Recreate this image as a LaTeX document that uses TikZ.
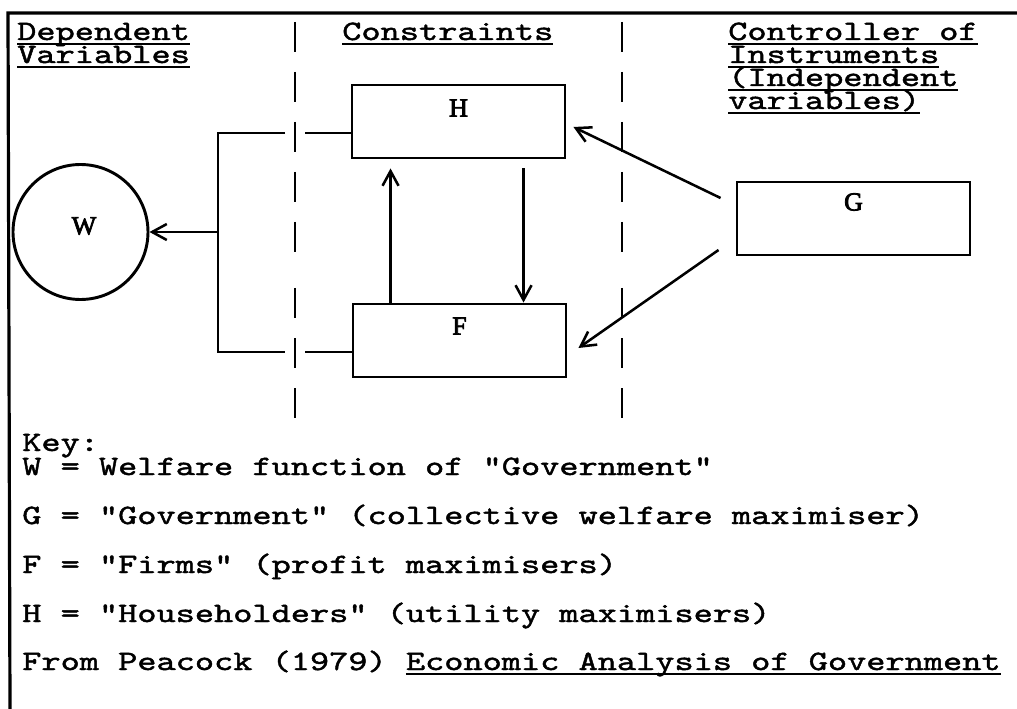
\documentclass[tikz,border=0pt]{standalone}
\usepackage{fontspec}
\usetikzlibrary{arrows.meta,calc}

% typewriter face for the headings and the key, serif face for the box letters
\newfontfamily\typer[FakeStretch=1.305,FakeBold=1.6]{lmmono10-regular.otf}
\newfontfamily\lett[FakeBold=3]{Liberation Serif}

% underline drawn at a fixed depth below the baseline
\newcommand\uln[1]{\setbox0\hbox{#1}\rlap{\rule[-4pt]{\wd0}{1.6pt}}\box0}

\tikzset{
  frame/.style={line width=2.4pt},
  divider/.style={line width=2pt, dash pattern=on 22.5pt off 15pt},
  box/.style={draw, line width=2.2pt, inner sep=0pt,
              minimum width=159.75pt, minimum height=54.75pt},
  conn/.style={line width=1.9pt},
  arr/.style={conn, -{Straight Barb[length=11pt,width=12pt]}},
  txt/.style={anchor=base west, inner sep=0pt,
              font=\typer\fontsize{21}{18.75}\selectfont},
  lbl/.style={inner sep=0pt, font=\lett\fontsize{19.5}{22}\selectfont}
}

\begin{document}
\begin{tikzpicture}[x=0.75pt,y=-0.75pt]
\useasboundingbox (0,0) rectangle (1017,709);

% outer frame (top and left edges)
\draw[frame] (1017,13) -- (8,13) -- (10,709);

% column dividers
\draw[divider] (295,22) -- (295,252);
\draw[divider] (295,288) -- (295,420);
\draw[divider] (622,22) -- (622,252);
\draw[divider] (622,288) -- (622,420);

% column headings
\node[txt] (dep1) at (17,40) {\uln{Dependent}};
\node[txt] (dep2) at (17,63) {\uln{Variables}};
\node[txt] (con1) at (342,40) {\uln{Constraints}};
\node[txt] (ctl1) at (728,40) {\uln{Controller of}};
\node[txt] (ctl2) at (728,63) {\uln{Instruments}};
\node[txt] (ctl3) at (728,86) {\uln{(Independent}};
\node[txt] (ctl4) at (728,109) {\uln{variables)}};

% welfare function, constraints and government
\node[draw, circle, line width=2.2pt, minimum size=101.25pt, inner sep=0pt] (W) at (80.5,232) {};
\node[box] (H) at (458.5,121.5) {};
\node[box] (F) at (459.5,340.5) {};
\node[box, minimum width=174.75pt] (G) at (853.5,218.5) {};

\node[lbl] (Wl) at (84,226) {W};
\node[lbl] (Hl) at (458.5,108) {H};
\node[lbl] (Fl) at (459.5,326) {F};
\node[lbl] (Gl) at (853.5,202) {G};

% bracket joining H and F to W
\coordinate (bT) at (218,133);
\coordinate (bB) at (218,352);
\coordinate (J) at (218,232);
\coordinate (gTl) at (285,133);
\coordinate (gTr) at (305,133);
\coordinate (gBl) at (285,352);
\coordinate (gBr) at (305,352);

\draw[conn] (H.west |- bT) -- (gTr);
\draw[conn] (gTl) -- (bT) -- (bB) -- (gBl);
\draw[conn] (gBr) -- (F.west |- bB);
\draw[arr] (J) -- (W);

% flows between H and F
\draw[arr] ($(F.north west)+(39,0)$) -- ($(H.south west)+(40,9)$);
\draw[arr] ($(H.south west)+(173,9)$) -- ($(F.north west)+(172,0)$);

% government instruments
\draw[arr] ($(G.west)+(-15,-20.5)$) -- ($(H.east)+(7,5.5)$);
\draw[arr] ($(G.west)+(-17,31.5)$) -- ($(F.east)+(11,7.5)$);

% key
\node[txt] (k0) at (22,451) {Key:};
\node[txt] (k1) at (22,475) {W = Welfare function of "Government"};
\node[txt] (k2) at (22,524) {G = "Government" (collective welfare maximiser)};
\node[txt] (k3) at (22,573) {F = "Firms" (profit maximisers)};
\node[txt] (k4) at (22,622) {H = "Householders" (utility maximisers)};
\node[txt] (k5) at (22,670) {From Peacock (1979) \uln{Economic Analysis of Government}};
\end{tikzpicture}
\end{document}
